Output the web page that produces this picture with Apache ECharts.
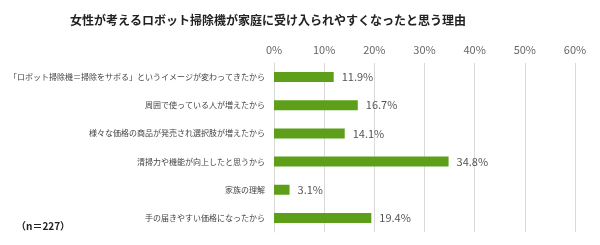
<!DOCTYPE html>
<html><head><meta charset="utf-8">
<script src="https://cdn.jsdelivr.net/npm/echarts@6/dist/echarts.min.js"></script>
<style>html,body{margin:0;padding:0;background:#fff}#c{width:600px;height:245px}</style>
</head><body><div id="c"></div>
<script>
const categories = [
  "「ロボット掃除機＝掃除をサボる」というイメージが変わってきたから",
  "周囲で使っている人が増えたから",
  "様々な価格の商品が発売され選択肢が増えたから",
  "清掃力や機能が向上したと思うから",
  "家族の理解",
  "手の届きやすい価格になったから"
];
const values = [11.9, 16.7, 14.1, 34.8, 3.1, 19.4];
const title = "女性が考えるロボット掃除機が家庭に受け入られやすくなったと思う理由";
const note = "（n＝227）";

const chart = echarts.init(document.getElementById('c'), null, {renderer:'canvas'});
const font = '"Noto Sans CJK JP", sans-serif';
chart.setOption({
  animation: false,
  title: [{
    text: title, left: 263, textAlign: 'center', top: 9,
    textStyle: {fontFamily: font, fontSize: 12, fontWeight: 'bold', color: '#222'}
  }],
  graphic: [{
    type: 'text', left: 16, top: 221,
    style: {text: note, font: 'bold 10px ' + font, fill: '#222'}
  }],
  grid: {left: 274, right: 25, top: 63, bottom: 13, containLabel: false, outerBoundsMode: 'none'},
  xAxis: {
    type: 'value', position: 'top', min: 0, max: 60, interval: 10,
    axisLabel: {formatter: '{value}%', color: '#666', fontSize: 11, fontFamily: font, margin: 8},
    axisLine: {show: false}, axisTick: {show: false},
    splitLine: {lineStyle: {color: '#d9d9d9'}}
  },
  yAxis: {
    type: 'category', inverse: true, data: categories,
    axisLabel: {color: '#444', fontSize: 8, fontFamily: font, margin: 9},
    axisLine: {lineStyle: {color: '#d9d9d9'}}, axisTick: {show: false}
  },
  series: [{
    type: 'bar', data: values, barWidth: 10,
    itemStyle: {color: '#5e9f1a'},
    label: {show: true, position: 'right', distance: 8, formatter: p => p.value.toFixed(1) + '%',
      color: '#555', fontSize: 11, fontFamily: font}
  }]
});
</script></body></html>
